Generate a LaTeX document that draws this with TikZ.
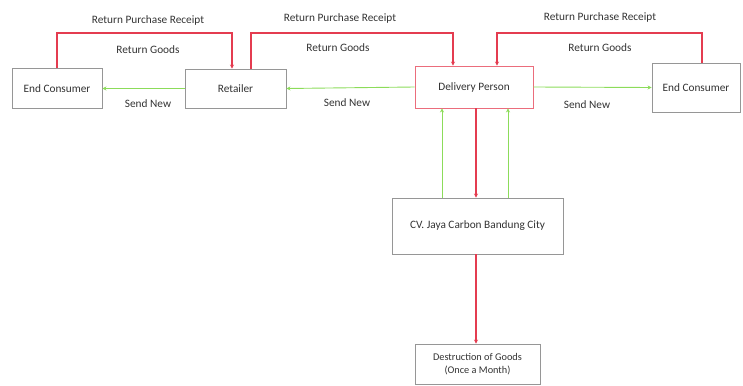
\documentclass[tikz,border=0pt]{standalone}
\usepackage{fontspec}
\setmainfont{Carlito}
\usetikzlibrary{arrows.meta}
\definecolor{redl}{RGB}{228,60,80}
\definecolor{greenl}{RGB}{140,220,90}
\definecolor{boxgray}{RGB}{150,150,150}
\begin{document}
\begin{tikzpicture}[x=1pt,y=-1pt,
  box/.style={draw=boxgray,line width=0.9pt,fill=white,font=\fontsize{11.3}{13.5}\selectfont,text=black!80,align=center,inner sep=0pt},
  redarr/.style={draw=redl,line width=1.8pt,-{Stealth[length=4pt,width=4pt]}},
  grnarr/.style={draw=greenl,line width=0.9pt,-{Stealth[length=4pt,width=4pt]}},
  lbl/.style={font=\fontsize{11.3}{13.5}\selectfont,text=black!80}]
\useasboundingbox (0,0) rectangle (743,385);
% boxes
\node[box,minimum width=90pt,minimum height=40pt] (ec1) at (57,88.5) {End Consumer};
\node[box,minimum width=101pt,minimum height=39pt] (ret) at (235.5,88.5) {Retailer};
\node[box,draw=redl!75,line width=0.9pt,minimum width=118pt,minimum height=42pt] (dp) at (474,87) {Delivery Person};
\node[box,minimum width=88pt,minimum height=49pt] (ec2) at (696,87.5) {End Consumer};
\node[box,minimum width=171pt,minimum height=56pt] (cv) at (477.5,226) {CV. Jaya Carbon Bandung City};
\node[box,font=\fontsize{10.3}{13}\selectfont,minimum width=125pt,minimum height=40pt] (dg) at (477.5,364) {Destruction of Goods\\(Once a Month)};
% red return loops
\draw[redarr] (ec1.north -| 57,0) |- (232,33) -- (ret.north -| 232,0);
\draw[redarr] (ret.north -| 251,0) |- (453,33) -- (dp.north -| 453,0);
\draw[redarr] (ec2.north -| 702,0) |- (497,33) -- (dp.north -| 497,0);
% green send new
\draw[grnarr] (ret.west) -- (ec1.east);
\draw[grnarr] (dp.west) -- (ret.east);
\draw[grnarr] (dp.east) -- (ec2.west);
% vertical
\draw[redarr] (dp.south -| 476,0) -- (cv.north -| 476,0);
\draw[grnarr] (cv.north -| 442,0) -- (dp.south -| 442,0);
\draw[grnarr] (cv.north -| 508,0) -- (dp.south -| 508,0);
\draw[redarr] (cv.south -| 476,0) -- (dg.north -| 476,0);
% labels
\node[lbl] (l1) at (148,20) {Return Purchase Receipt};
\node[lbl] (l2) at (148,50) {Return Goods};
\node[lbl] (l3) at (148,104) {Send New};
\node[lbl] (l4) at (340,18) {Return Purchase Receipt};
\node[lbl] (l5) at (338,48) {Return Goods};
\node[lbl] (l6) at (347,103) {Send New};
\node[lbl] (l7) at (600,17) {Return Purchase Receipt};
\node[lbl] (l8) at (600,48) {Return Goods};
\node[lbl] (l9) at (587,105) {Send New};
\end{tikzpicture}
\end{document}
